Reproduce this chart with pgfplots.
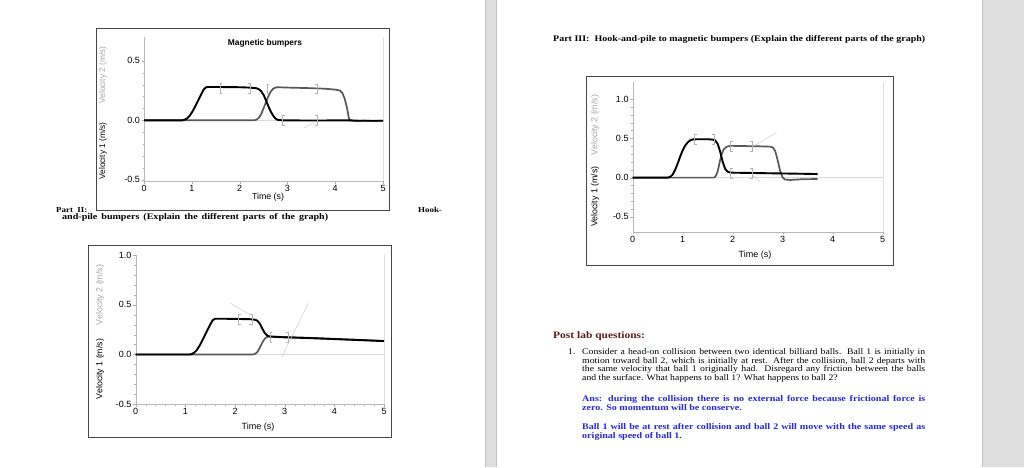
\documentclass[border=0pt]{standalone}
\usepackage{pgfplots}
\pgfplotsset{compat=1.18}
\usepackage{fontspec}
\setmainfont{Liberation Serif}
\newfontfamily\docreg[FakeStretch=1.13]{Liberation Serif}
\newfontfamily\docbold[FakeStretch=1.17]{Liberation Serif}
\newfontfamily\arial{Liberation Sans}
\definecolor{pagegray}{RGB}{222,222,222}
\definecolor{edgegray}{RGB}{195,195,195}
\definecolor{v2gray}{RGB}{88,88,88}
\definecolor{boxgray}{RGB}{70,70,70}
\definecolor{ansblue}{RGB}{40,40,215}
\definecolor{maroon}{RGB}{90,28,28}
\pgfplotsset{
  vp/.style={
    scale only axis, xmin=0, xmax=5, xtick={0,1,2,3,4,5},
    minor x tick num=4, minor y tick num=4,
    axis lines=left, axis line style={-, gray!55},
    tick style={gray!65}, tick align=outside,
    major tick length=2.5pt, minor tick length=1.4pt,
    /pgf/number format/assume math mode=true,
    ticklabel style={font=\arial\fontsize{9}{10}\selectfont, inner sep=1.5pt},
    yticklabel style={/pgf/number format/fixed,/pgf/number format/fixed zerofill,/pgf/number format/precision=1},
    xticklabel style={/pgf/number format/fixed,/pgf/number format/precision=0},
    extra y ticks={0}, extra y tick labels={}, extra y tick style={grid=major, major grid style={gray!30, line width=0.6pt}},
    extra x ticks={5}, extra x tick labels={}, extra x tick style={grid=major, major grid style={gray!25}},
    clip=false,
  },
  v1/.style={black, line width=1.9pt, line join=round},
  v2/.style={v2gray, line width=1.7pt, line join=round},
  brk/.style={gray!60, line width=0.5pt, forget plot},
  tan/.style={gray!45, line width=0.4pt, forget plot},
}
\begin{document}
\begin{tikzpicture}[x=1pt,y=1pt]
\useasboundingbox (0,0) rectangle (1024,467);
\fill[white] (0,0) rectangle (1024,467);
\fill[pagegray] (485,0) rectangle (497,467);
\draw[edgegray] (485.5,0) -- (485.5,467) (496.5,0) -- (496.5,467);
\fill[pagegray] (982,0) rectangle (1024,467);
\draw[edgegray] (982.5,0) -- (982.5,467);

% ---------- chart 1 : magnetic bumpers ----------
\draw[boxgray, line width=0.7pt] (96,257) rectangle (389,439);
\begin{axis}[vp, at={(144pt,286pt)}, anchor=south west, width=239pt, height=144pt,
  ymin=-0.51, ymax=0.7, ytick={-0.5,0,0.5}]
\addplot[v2] coordinates {(0,0) (2.3,0) (2.35,0.005) (2.4,0.02) (2.45,0.05) (2.5,0.1) (2.55,0.15) (2.6,0.2) (2.65,0.24) (2.7,0.265) (2.75,0.275) (2.8,0.278) (3.0,0.275) (3.5,0.27) (3.8,0.265) (4.0,0.258) (4.1,0.25) (4.15,0.23) (4.2,0.18) (4.25,0.1) (4.28,0.03) (4.3,0) (4.4,-0.005) (4.6,-0.002) (4.8,-0.006) (5,-0.003)};
\addplot[v1] coordinates {(0,0) (0.8,0) (0.85,0.005) (0.9,0.015) (0.95,0.035) (1.0,0.065) (1.05,0.1) (1.1,0.14) (1.15,0.18) (1.2,0.22) (1.25,0.26) (1.3,0.278) (1.35,0.28) (1.5,0.28) (1.8,0.279) (2.0,0.278) (2.2,0.275) (2.35,0.27) (2.4,0.262) (2.45,0.245) (2.5,0.215) (2.55,0.17) (2.6,0.12) (2.65,0.075) (2.7,0.04) (2.75,0.015) (2.8,0.003) (2.9,0) (3.5,-0.002) (4.3,0) (4.5,-0.004) (5,-0.004)};
\addplot[brk] coordinates {(1.64,0.31)(1.59,0.31)(1.59,0.23)(1.64,0.23)};
\addplot[brk] coordinates {(2.17,0.31)(2.22,0.31)(2.22,0.23)(2.17,0.23)};
\addplot[brk] coordinates {(2.62,0.305)(2.57,0.305)(2.57,0.225)(2.62,0.225)};
\addplot[brk] coordinates {(3.57,0.305)(3.62,0.305)(3.62,0.225)(3.57,0.225)};
\addplot[brk] coordinates {(2.95,0.04)(2.9,0.04)(2.9,-0.04)(2.95,-0.04)};
\addplot[brk] coordinates {(3.57,0.04)(3.62,0.04)(3.62,-0.04)(3.57,-0.04)};
\addplot[tan] coordinates {(3.34,-0.062)(3.58,-0.02)};
\end{axis}
\node[font=\arial\bfseries\fontsize{8.4}{9}\selectfont] at (265,424) {Magnetic bumpers};
\node[font=\arial\fontsize{8.8}{9}\selectfont] at (268,270) {Time (s)};
\node[rotate=90, font=\arial\fontsize{8.3}{9}\selectfont] at (103,316) {Velocity 1 (m/s)};
\node[rotate=90, font=\arial\fontsize{8.3}{9}\selectfont, gray!70] at (103,392) {Velocity 2 (m/s)};

% ---------- chart 2 : hook-and-pile ----------
\draw[boxgray, line width=0.7pt] (88,30) rectangle (391,222);
\begin{axis}[vp, at={(135.7pt,62.7pt)}, anchor=south west, width=248.3pt, height=149.3pt,
  ymin=-0.5, ymax=1.0, ytick={-0.5,0,0.5,1.0}]
\addplot[v2] coordinates {(0,0) (2.35,0) (2.4,0.005) (2.45,0.025) (2.5,0.07) (2.55,0.12) (2.6,0.16) (2.65,0.178) (2.7,0.182) (3.0,0.176) (3.5,0.168) (4.0,0.158) (4.5,0.148) (5,0.137)};
\addplot[v1] coordinates {(0,0) (1.08,0) (1.13,0.005) (1.18,0.02) (1.23,0.045) (1.3,0.1) (1.35,0.15) (1.4,0.2) (1.45,0.25) (1.5,0.3) (1.55,0.345) (1.6,0.36) (1.7,0.36) (2.0,0.358) (2.3,0.355) (2.4,0.35) (2.45,0.34) (2.5,0.31) (2.55,0.26) (2.6,0.215) (2.65,0.19) (2.7,0.18) (3.0,0.173) (3.5,0.165) (4.0,0.155) (4.5,0.145) (5,0.135)};
\addplot[brk] coordinates {(2.12,0.40)(2.07,0.40)(2.07,0.30)(2.12,0.30)};
\addplot[brk] coordinates {(2.29,0.40)(2.34,0.40)(2.34,0.30)(2.29,0.30)};
\addplot[brk] coordinates {(2.75,0.22)(2.7,0.22)(2.7,0.12)(2.75,0.12)};
\addplot[brk] coordinates {(3.02,0.22)(3.07,0.22)(3.07,0.12)(3.02,0.12)};
\addplot[tan] coordinates {(1.9,0.517)(2.37,0.383)};
\addplot[tan] coordinates {(2.94,-0.027)(3.48,0.517)};
\end{axis}
\node[font=\arial\fontsize{9}{10}\selectfont] at (258,40) {Time (s)};
\node[rotate=90, font=\arial\fontsize{8.8}{9}\selectfont] at (100,98) {Velocity 1 (m/s)};
\node[rotate=90, font=\arial\fontsize{8.8}{9}\selectfont, gray!70] at (100,172) {Velocity 2 (m/s)};

% ---------- chart 3 : hook-and-pile to magnetic ----------
\draw[boxgray, line width=0.7pt] (586,202) rectangle (893,391);
\begin{axis}[vp, at={(632.7pt,235.3pt)}, anchor=south west, width=250pt, height=149.7pt,
  ymin=-0.69, ymax=1.22, ytick={-0.5,0,0.5,1.0}]
\addplot[v2] coordinates {(0,0) (1.63,0) (1.66,0.02) (1.7,0.08) (1.74,0.2) (1.78,0.3) (1.82,0.36) (1.88,0.395) (1.95,0.405) (2.0,0.405) (2.5,0.4) (2.75,0.395) (2.8,0.385) (2.85,0.34) (2.9,0.22) (2.95,0.08) (3.0,0.0) (3.05,-0.025) (3.15,-0.03) (3.4,-0.02) (3.7,-0.018)};
\addplot[v1] coordinates {(0,0) (0.7,0) (0.75,0.01) (0.8,0.04) (0.85,0.1) (0.9,0.18) (0.95,0.27) (1.0,0.35) (1.05,0.41) (1.1,0.45) (1.15,0.475) (1.2,0.487) (1.3,0.49) (1.5,0.49) (1.6,0.485) (1.65,0.475) (1.7,0.43) (1.75,0.33) (1.8,0.2) (1.85,0.11) (1.9,0.075) (1.95,0.065) (2.0,0.063) (2.5,0.058) (3.0,0.053) (3.5,0.048) (3.7,0.045)};
\addplot[brk] coordinates {(1.28,0.555)(1.23,0.555)(1.23,0.425)(1.28,0.425)};
\addplot[brk] coordinates {(1.58,0.555)(1.63,0.555)(1.63,0.425)(1.58,0.425)};
\addplot[brk] coordinates {(2.01,0.465)(1.96,0.465)(1.96,0.335)(2.01,0.335)};
\addplot[brk] coordinates {(2.35,0.465)(2.4,0.465)(2.4,0.335)(2.35,0.335)};
\addplot[brk] coordinates {(2.01,0.125)(1.96,0.125)(1.96,-0.005)(2.01,-0.005)};
\addplot[brk] coordinates {(2.35,0.125)(2.4,0.125)(2.4,-0.005)(2.35,-0.005)};
\addplot[tan] coordinates {(2.41,0.40)(2.88,0.576)};
\addplot[tan] coordinates {(2.4,0.03)(2.55,-0.06)};
\end{axis}
\node[font=\arial\fontsize{9}{10}\selectfont] at (755,212) {Time (s)};
\node[rotate=90, font=\arial\fontsize{8.8}{9}\selectfont] at (595,270.5) {Velocity 1 (m/s)};
\node[rotate=90, font=\arial\fontsize{8.8}{9}\selectfont, gray!70] at (595,342) {Velocity 2 (m/s)};

% ---------- document text ----------
\begin{scope}[every node/.style={anchor=base west, inner sep=0pt}]
\node[font=\docbold\bfseries\fontsize{8.5}{10}\selectfont] at (553,425) {\makebox[372pt][s]{Part III:\ \ Hook-and-pile to magnetic bumpers (Explain the different parts of the graph)}};
\node[font=\docbold\bfseries\fontsize{7.6}{8}\selectfont] at (56,255) {Part\ \ II:};
\node[font=\docbold\bfseries\fontsize{7.6}{8}\selectfont] at (418,255) {Hook-};
\node[font=\docbold\bfseries\fontsize{8.6}{10}\selectfont] at (62,247.5) {\makebox[266pt][s]{and-pile bumpers (Explain the different parts of the graph)}};
\node[font=\docbold\bfseries\fontsize{9.8}{11}\selectfont, text=maroon] at (553,129) {Post lab questions:};
\node[font=\docreg\fontsize{8.6}{9}\selectfont] at (568,112.5) {1.};
\node[font=\docreg\fontsize{8.6}{9}\selectfont] at (582,112.5) {\makebox[343pt][s]{Consider a head-on collision between two identical billiard balls. Ball 1 is initially in}};
\node[font=\docreg\fontsize{8.6}{9}\selectfont] at (582,103.8) {\makebox[343pt][s]{motion toward ball 2, which is initially at rest. After the collision, ball 2 departs with}};
\node[font=\docreg\fontsize{8.6}{9}\selectfont] at (582,95.1) {\makebox[343pt][s]{the same velocity that ball 1 originally had. Disregard any friction between the balls}};
\node[font=\docreg\fontsize{8.6}{9}\selectfont] at (582,86.4) {and the surface. What happens to ball 1? What happens to ball 2?};
\node[font=\docbold\bfseries\fontsize{8.6}{9}\selectfont, text=ansblue] at (582,65.5) {\makebox[343pt][s]{Ans: during the collision there is no external force because frictional force is}};
\node[font=\docbold\bfseries\fontsize{8.6}{9}\selectfont, text=ansblue] at (582,56.5) {zero. So momentum will be conserve.};
\node[font=\docbold\bfseries\fontsize{8.6}{9}\selectfont, text=ansblue] at (582,37.5) {\makebox[343pt][s]{Ball 1 will be at rest after collision and ball 2 will move with the same speed as}};
\node[font=\docbold\bfseries\fontsize{8.6}{9}\selectfont, text=ansblue] at (582,28.3) {original speed of ball 1.};
\end{scope}
\end{tikzpicture}
\end{document}
